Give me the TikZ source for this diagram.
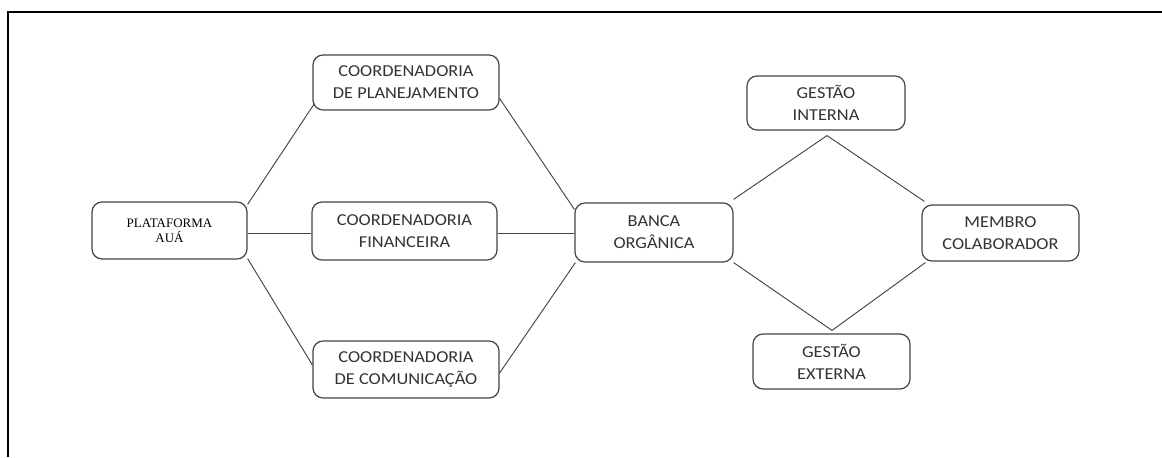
\documentclass[tikz,border=0pt]{standalone}
\usepackage{fontspec}
\setmainfont{Carlito}[FakeStretch=1.1]
\newfontfamily\timesfont{Liberation Serif}
\usetikzlibrary{calc}
\definecolor{txt}{HTML}{333333}
\definecolor{edge}{HTML}{444444}
\tikzset{
  box/.style={draw=edge, line width=0.9pt, rounded corners=7.5pt, fill=white,
    align=center, text=txt, inner sep=0pt,
    font=\fontsize{12.5}{16.5}\selectfont},
  tbox/.style={box, text=black, font=\timesfont\fontsize{9.75}{11.25}\selectfont},
  conn/.style={draw=edge, line width=0.7pt},
  frame/.style={draw=black, line width=1.5pt}
}
\begin{document}
\begin{tikzpicture}[x=0.75pt, y=0.75pt]
\useasboundingbox (0,0) rectangle (1162,457);
\fill[white] (0,0) rectangle (1162,457);
\draw[frame] (8,0) -- (8,445) -- (1162,445);

\node[tbox, minimum width=116.25pt, minimum height=42.75pt] (plat) at (169.5,226.5) {PLATAFORMA\\AUÁ};
\node[box, minimum width=139.5pt, minimum height=41.25pt] (plan) at (406,374.5) {COORDENADORIA\\DE PLANEJAMENTO};
\node[box, minimum width=138.75pt, minimum height=43.5pt] (fin) at (404.5,226) {COORDENADORIA\\FINANCEIRA};
\node[box, minimum width=139.5pt, minimum height=42.75pt] (com) at (406,87.5) {COORDENADORIA\\DE COMUNICAÇÃO};
\node[box, minimum width=118.5pt, minimum height=44.25pt] (banca) at (654,224.5) {BANCA\\ORGÂNICA};
\node[box, minimum width=118.5pt, minimum height=40.5pt] (gi) at (826,354) {GESTÃO\\INTERNA};
\node[box, minimum width=117.75pt, minimum height=41.25pt] (ge) at (831.5,95.5) {GESTÃO\\EXTERNA};
\node[box, minimum width=117.75pt, minimum height=42pt] (mem) at (1000.5,224) {MEMBRO\\COLABORADOR};

\coordinate (apex) at ($(gi.south)+(1,-5)$);
\coordinate (vertex) at ($(ge.north)+(0.5,3)$);

\draw[conn] ($(plat.north east)+(0,-3)$) -- ($(plan.south west)+(2,7)$);
\draw[conn] ($(plat.east)+(0,-2.5)$) -- ($(fin.west)+(0,-2)$);
\draw[conn] ($(plat.south east)+(0,1)$) -- ($(com.west)+(0,4.5)$);
\draw[conn] ($(plan.east)+(0,-16)$) -- ($(banca.north west)+(0,-7)$);
\draw[conn] ($(fin.east)+(0,-2)$) -- ($(banca.west)+(0,-0.5)$);
\draw[conn] ($(com.east)+(0,-3.5)$) -- ($(banca.south west)+(1,0)$);
\draw[conn] ($(banca.north east)+(0,3)$) -- (apex) -- ($(mem.north west)+(3,3)$);
\draw[conn] (banca.south east) -- (vertex) -- ($(mem.south west)+(4,-1)$);
\end{tikzpicture}
\end{document}
